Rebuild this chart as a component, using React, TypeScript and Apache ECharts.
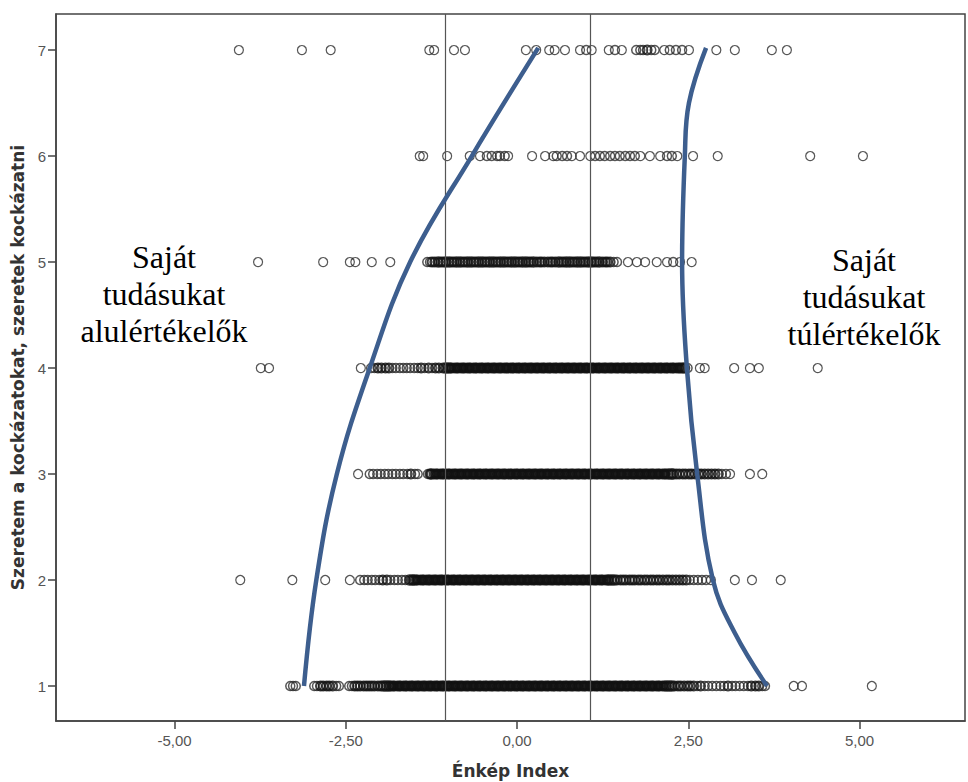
import React, { useEffect, useRef } from "react";
import * as echarts from "echarts";

// ---- data ----
const yLevels = [1, 2, 3, 4, 5, 6, 7];

const row1 = [-3.31, -3.27, -3.23,
  -2.96, -2.92, -2.87, -2.83, -2.78, -2.74, -2.69, -2.64, -2.60,
  -2.45, -2.41, -2.37, -2.33, -2.29, -2.24, -2.20, -2.16, -2.12, -2.08, -2.03, -1.99, -1.95, -1.91, -1.87, -1.84,
  -1.81, -1.79, -1.75, -1.72, -1.70, -1.66, -1.63, -1.61, -1.57, -1.54, -1.52, -1.48, -1.45, -1.43, -1.39, -1.36, -1.34, -1.30, -1.27, -1.25, -1.21, -1.18, -1.16, -1.12, -1.09, -1.07, -1.03, -1.00, -0.98, -0.94, -0.91, -0.89, -0.85, -0.82, -0.80, -0.76, -0.73, -0.71, -0.67, -0.64, -0.62, -0.58, -0.55, -0.53, -0.49, -0.46, -0.44, -0.40, -0.37, -0.35, -0.31, -0.28, -0.26, -0.22, -0.19, -0.17, -0.13, -0.10, -0.08, -0.04, -0.01, 0.01, 0.05, 0.08, 0.10, 0.14, 0.17, 0.19, 0.23, 0.26, 0.28, 0.32, 0.35, 0.37, 0.41, 0.44, 0.46, 0.50, 0.53, 0.55, 0.59, 0.62, 0.64, 0.68, 0.71, 0.73, 0.77, 0.80, 0.82, 0.86, 0.89, 0.91, 0.95, 0.98, 1.00, 1.04, 1.07, 1.09, 1.13, 1.16, 1.18, 1.22, 1.25, 1.27, 1.31, 1.34, 1.36, 1.40, 1.43, 1.45, 1.49, 1.52, 1.54, 1.58, 1.61, 1.63, 1.67, 1.70, 1.72, 1.76, 1.79, 1.81, 1.85, 1.88, 1.90, 1.94, 1.97, 1.99, 2.03, 2.06, 2.08, 2.12, 2.15, 2.18,
  2.22, 2.26, 2.30, 2.35, 2.39, 2.44, 2.49, 2.53, 2.58, 2.63, 2.68, 2.74, 2.79, 2.85, 2.91, 2.97, 3.02, 3.08, 3.14, 3.19, 3.25, 3.31, 3.37, 3.42, 3.48, 3.53, 3.58, 3.62,
  4.04, 4.16, 5.18];

const row2 = [-4.04, -3.28, -2.80, -2.44,
  -2.29, -2.23, -2.18, -2.12, -2.07, -2.01, -1.96, -1.90, -1.85, -1.79, -1.74, -1.68, -1.63, -1.57, -1.53,
  -1.50, -1.47, -1.45, -1.41, -1.38, -1.36, -1.32, -1.29, -1.27, -1.23, -1.20, -1.18, -1.14, -1.11, -1.09, -1.05, -1.02, -1.00, -0.96, -0.93, -0.91, -0.87, -0.84, -0.82, -0.78, -0.75, -0.73, -0.69, -0.66, -0.64, -0.60, -0.57, -0.55, -0.51, -0.48, -0.46, -0.42, -0.39, -0.37, -0.33, -0.30, -0.28, -0.24, -0.21, -0.19, -0.15, -0.12, -0.10, -0.06, -0.03, -0.01, 0.03, 0.06, 0.08, 0.12, 0.15, 0.17, 0.21, 0.24, 0.26, 0.30, 0.33, 0.35, 0.39, 0.42, 0.44, 0.48, 0.51, 0.53, 0.57, 0.60, 0.62, 0.66, 0.69, 0.71, 0.75, 0.78, 0.80, 0.84, 0.87, 0.89, 0.93, 0.96, 0.98, 1.02, 1.05, 1.07, 1.11, 1.14, 1.16, 1.20, 1.23, 1.25, 1.29, 1.32, 1.34, 1.38,
  1.42, 1.46, 1.51, 1.55, 1.59, 1.64, 1.68, 1.72, 1.77, 1.81, 1.86, 1.90, 1.95, 1.99, 2.04, 2.08, 2.13, 2.18, 2.22, 2.27, 2.32, 2.37, 2.42, 2.47, 2.52, 2.58, 2.64, 2.70, 2.76, 2.83,
  3.18, 3.43, 3.85];

const row3 = [-2.32,
  -2.15, -2.10, -2.04, -1.99, -1.93, -1.88, -1.82, -1.77, -1.71, -1.66, -1.60, -1.55, -1.49, -1.45,
  -1.30, -1.27, -1.25, -1.21, -1.18, -1.16, -1.12, -1.09, -1.07, -1.03, -1.00, -0.98, -0.94, -0.91, -0.89, -0.85, -0.82, -0.80, -0.76, -0.73, -0.71, -0.67, -0.64, -0.62, -0.58, -0.55, -0.53, -0.49, -0.46, -0.44, -0.40, -0.37, -0.35, -0.31, -0.28, -0.26, -0.22, -0.19, -0.17, -0.13, -0.10, -0.08, -0.04, -0.01, 0.01, 0.05, 0.08, 0.10, 0.14, 0.17, 0.19, 0.23, 0.26, 0.28, 0.32, 0.35, 0.37, 0.41, 0.44, 0.46, 0.50, 0.53, 0.55, 0.59, 0.62, 0.64, 0.68, 0.71, 0.73, 0.77, 0.80, 0.82, 0.86, 0.89, 0.91, 0.95, 0.98, 1.00, 1.04, 1.07, 1.09, 1.13, 1.16, 1.18, 1.22, 1.25, 1.27, 1.31, 1.34, 1.36, 1.40, 1.43, 1.45, 1.49, 1.52, 1.54, 1.58, 1.61, 1.63, 1.67, 1.70, 1.72, 1.76, 1.79, 1.81, 1.85, 1.88, 1.90, 1.94, 1.97, 1.99, 2.03, 2.06, 2.08, 2.12, 2.15, 2.17, 2.21, 2.25, 2.28,
  2.33, 2.37, 2.42, 2.46, 2.51, 2.55, 2.60, 2.65, 2.69, 2.74, 2.79, 2.84, 2.89, 2.94, 2.99, 3.05, 3.11,
  3.40, 3.58];

const row4 = [-3.74, -3.62, -2.28,
  -2.13, -2.08, -2.03, -1.98, -1.92, -1.87, -1.82, -1.77, -1.71, -1.66, -1.61, -1.56, -1.50, -1.45, -1.40, -1.35, -1.29, -1.24, -1.19, -1.14, -1.08, -1.04,
  -1.00, -0.97, -0.95, -0.91, -0.88, -0.86, -0.82, -0.79, -0.77, -0.73, -0.70, -0.68, -0.64, -0.61, -0.59, -0.55, -0.52, -0.50, -0.46, -0.43, -0.41, -0.37, -0.34, -0.32, -0.28, -0.25, -0.23, -0.19, -0.16, -0.14, -0.10, -0.07, -0.05, -0.01, 0.02, 0.04, 0.08, 0.11, 0.13, 0.17, 0.20, 0.22, 0.26, 0.29, 0.31, 0.35, 0.38, 0.40, 0.44, 0.47, 0.49, 0.53, 0.56, 0.58, 0.62, 0.65, 0.67, 0.71, 0.74, 0.76, 0.80, 0.83, 0.85, 0.89, 0.92, 0.94, 0.98, 1.01, 1.03, 1.07, 1.10, 1.12, 1.16, 1.19, 1.21, 1.25, 1.28, 1.30, 1.34, 1.37, 1.39, 1.43, 1.46, 1.48, 1.52, 1.55, 1.57, 1.61, 1.64, 1.66, 1.70, 1.73, 1.75, 1.79, 1.82, 1.84, 1.88, 1.91, 1.93, 1.97, 2.00, 2.02, 2.06, 2.09, 2.11, 2.15, 2.18, 2.20, 2.24, 2.27, 2.29, 2.33, 2.36, 2.38, 2.42, 2.45, 2.49,
  2.67, 2.74, 3.17, 3.40, 3.53, 4.39];

const row5 = [-3.78, -2.83, -2.44, -2.36, -2.12, -1.85,
  -1.31, -1.27, -1.24, -1.20, -1.15, -1.11, -1.08, -1.04, -0.99, -0.95, -0.92, -0.88, -0.83, -0.79, -0.76, -0.72, -0.67, -0.63, -0.60, -0.56, -0.51, -0.47, -0.44, -0.40, -0.35, -0.31, -0.28, -0.24, -0.19, -0.15, -0.12, -0.08, -0.03, 0.01, 0.04, 0.08, 0.13, 0.17, 0.20, 0.24, 0.29, 0.33, 0.36, 0.40, 0.45, 0.49, 0.52, 0.56, 0.61, 0.65, 0.68, 0.72, 0.77, 0.81, 0.84, 0.88, 0.93, 0.97, 1.00, 1.04, 1.09, 1.13, 1.16, 1.20, 1.25, 1.29, 1.32, 1.36, 1.41, 1.46,
  1.62, 1.75, 1.87, 2.04, 2.19, 2.28, 2.38, 2.55];

const row6 = [-1.42, -1.37, -1.02, -0.69, -0.54, -0.44, -0.37, -0.29, -0.25, -0.18, -0.13, 0.22, 0.41, 0.53, 0.58, 0.66, 0.73, 0.80, 0.92, 1.07, 1.14, 1.21, 1.28, 1.36, 1.43, 1.50, 1.58, 1.65, 1.72, 1.80, 1.94, 2.09, 2.19, 2.26, 2.34, 2.57, 2.93, 4.28, 5.05];

const row7 = [-4.06, -3.14, -2.72, -1.28, -1.21, -0.92, -0.76, 0.13, 0.28, 0.47, 0.55, 0.70, 0.92, 1.01, 1.09, 1.34, 1.43, 1.53, 1.74, 1.80, 1.84, 1.90, 1.96, 2.01, 2.15, 2.23, 2.32, 2.41, 2.51, 2.91, 3.18, 3.72, 3.94];

const rows = [row1, row2, row3, row4, row5, row6, row7];

// reference lines on x
const refLines = [-1.05, 1.07];

// hand-drawn boundary curves [x, y]
const leftCurveX = [-3.11, -2.93, -2.63, -2.15, -1.56, -0.66, 0.31];
const leftCurveY = [1.0, 2.0, 3.0, 4.0, 5.0, 6.0, 7.02];
const rightCurveX = [3.65, 3.18, 2.86, 2.63, 2.48, 2.41, 2.45, 2.51, 2.76];
const rightCurveY = [1.0, 1.5, 2.0, 3.0, 4.0, 5.0, 6.0, 6.5, 7.02];

const xTicks = [-5, -2.5, 0, 2.5, 5];
const yTicks = [1, 2, 3, 4, 5, 6, 7];

const xTitle = "Énkép Index";
const yTitle = "Szeretem a kockázatokat, szeretek kockázatni";
const leftNote = "Saját\ntudásukat\nalulértékelők";
const rightNote = "Saját\ntudásukat\ntúlértékelők";

export default function App() {
  const ref = useRef<HTMLDivElement>(null);
  useEffect(() => {
    document.body.style.margin = "0";
    const chart = echarts.init(ref.current!, undefined, { renderer: "svg" });

    // points; where circles pile up densely, draw them with a heavier stroke
    const points: any[] = [];
    rows.forEach((r, i) =>
      r.forEach((x) => {
        const n = r.filter((o) => o !== x && Math.abs(o - x) <= 0.11).length;
        const width = n >= 6 ? 3 : n === 5 ? 2.4 : n === 4 ? 2.0 : n >= 2 ? 1.5 : 1.2;
        points.push({
          value: [x, yLevels[i]],
          symbolSize: n >= 6 ? 8 : 9,
          itemStyle: { borderWidth: width, borderColor: n >= 4 ? "#111" : "#2a2a2a" },
        });
      })
    );
    const leftCurve = leftCurveX.map((x, i) => [x, leftCurveY[i]]);
    const rightCurve = rightCurveX.map((x, i) => [x, rightCurveY[i]]);

    const axisLine = { show: true, onZero: false, lineStyle: { color: "#444", width: 1.5 } };

    chart.setOption({
      animation: false,
      backgroundColor: "#fff",
      grid: { left: 56, right: 3, top: 14, bottom: 61, show: true, borderColor: "#444", borderWidth: 1.5, outerBoundsMode: "none" },
      xAxis: {
        type: "value",
        min: -6.73,
        max: 6.54,
        axisLine,
        splitLine: { show: false },
        axisTick: { show: true, customValues: xTicks, length: 8, lineStyle: { color: "#444", width: 1.5 } },
        axisLabel: {
          customValues: xTicks,
          fontSize: 15,
          color: "#555",
          fontFamily: "Liberation Sans",
          margin: 12,
          formatter: (v: number) => v.toFixed(2).replace(".", ","),
        },
        name: xTitle,
        nameLocation: "middle",
        nameGap: 41,
        nameTextStyle: { fontSize: 17, fontWeight: "bold", color: "#333", fontFamily: "DejaVu Sans" },
      },
      yAxis: {
        type: "value",
        min: 0.67,
        max: 7.34,
        axisLine,
        splitLine: { show: false },
        axisTick: { show: true, customValues: yTicks, length: 8, lineStyle: { color: "#444", width: 1.5 } },
        axisLabel: {
          customValues: yTicks,
          fontSize: 15,
          color: "#555",
          fontFamily: "Liberation Sans",
          margin: 10,
          formatter: (v: number) => String(v),
        },
        name: yTitle,
        nameLocation: "middle",
        nameGap: 27,
        nameTextStyle: { fontSize: 17, fontWeight: "bold", color: "#333", fontFamily: "DejaVu Sans" },
      },
      series: [
        {
          type: "scatter",
          data: points,
          symbol: "circle",
          symbolSize: 9,
          itemStyle: { color: "rgba(0,0,0,0)", borderColor: "#2a2a2a", borderWidth: 1.2 },
          silent: true,
          z: 2,
          markLine: {
            silent: true,
            symbol: ["none", "none"],
            label: { show: false },
            lineStyle: { color: "#555", width: 1.2, type: "solid" },
            data: refLines.map((v) => ({ xAxis: v })),
          },
        },
        {
          type: "line",
          data: leftCurve,
          smooth: 0.4,
          showSymbol: false,
          lineStyle: { color: "#3d5e8e", width: 4.5 },
          silent: true,
          z: 5,
        },
        {
          type: "line",
          data: rightCurve,
          smooth: 0.4,
          showSymbol: false,
          lineStyle: { color: "#3d5e8e", width: 4.5 },
          silent: true,
          z: 5,
        },
      ],
      graphic: [
        {
          type: "text",
          x: 164,
          y: 294,
          style: {
            text: leftNote,
            fill: "#000",
            fontSize: 32,
            fontFamily: "Liberation Serif",
            lineHeight: 37,
            align: "center",
            verticalAlign: "middle",
            textAlign: "center",
            textVerticalAlign: "middle",
          },
        },
        {
          type: "text",
          x: 864,
          y: 297,
          style: {
            text: rightNote,
            fill: "#000",
            fontSize: 32,
            fontFamily: "Liberation Serif",
            lineHeight: 37,
            align: "center",
            verticalAlign: "middle",
            textAlign: "center",
            textVerticalAlign: "middle",
          },
        },
      ],
    });
    return () => chart.dispose();
  }, []);
  return <div ref={ref} style={{ width: 968, height: 782 }} />;
}
